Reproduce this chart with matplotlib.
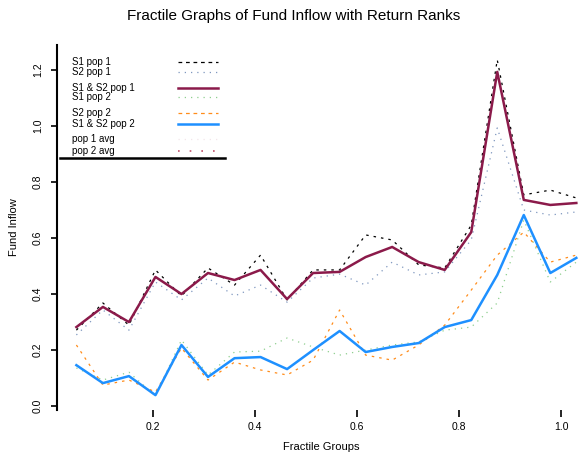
import matplotlib
matplotlib.use("Agg")
import matplotlib.pyplot as plt
from matplotlib.lines import Line2D

plt.rcParams['font.family'] = ['Liberation Sans', 'DejaVu Sans']

# Fractile group positions (20 groups)
fractiles = [0.050, 0.102, 0.153, 0.205, 0.256, 0.308, 0.360, 0.411, 0.463, 0.514,
             0.566, 0.617, 0.669, 0.721, 0.772, 0.824, 0.875, 0.927, 0.979, 1.030]

# Population 1
s1_pop1 = [0.271, 0.368, 0.289, 0.486, 0.393, 0.493, 0.432, 0.539, 0.379, 0.486,
           0.486, 0.611, 0.593, 0.504, 0.493, 0.646, 1.236, 0.754, 0.771, 0.743]
s2_pop1 = [0.254, 0.343, 0.271, 0.443, 0.379, 0.457, 0.393, 0.432, 0.371, 0.457,
           0.471, 0.432, 0.514, 0.468, 0.479, 0.593, 0.993, 0.700, 0.682, 0.693]
s12_pop1 = [0.282, 0.354, 0.300, 0.461, 0.400, 0.475, 0.450, 0.486, 0.382, 0.475,
            0.479, 0.532, 0.568, 0.514, 0.486, 0.621, 1.193, 0.736, 0.718, 0.725]

# Population 2
s1_pop2 = [0.136, 0.093, 0.121, 0.036, 0.236, 0.111, 0.193, 0.196, 0.243, 0.211,
           0.182, 0.200, 0.218, 0.229, 0.271, 0.282, 0.368, 0.664, 0.443, 0.514]
s2_pop2 = [0.218, 0.075, 0.093, 0.050, 0.207, 0.093, 0.157, 0.129, 0.111, 0.164,
           0.343, 0.182, 0.164, 0.218, 0.289, 0.414, 0.539, 0.621, 0.514, 0.539]
s12_pop2 = [0.146, 0.082, 0.107, 0.039, 0.218, 0.104, 0.171, 0.175, 0.132, 0.200,
            0.268, 0.193, 0.211, 0.225, 0.282, 0.307, 0.468, 0.682, 0.475, 0.529]

x_ticks = [0.2, 0.4, 0.6, 0.8, 1.0]
x_tick_labels = ["0.2", "0.4", "0.6", "0.8", "1.0"]
y_ticks = [0.0, 0.2, 0.4, 0.6, 0.8, 1.0, 1.2]
y_tick_labels = ["0.0", "0.2", "0.4", "0.6", "0.8", "1.0", "1.2"]

legend_labels = ["S1 pop 1", "S2 pop 1", "S1 & S2 pop 1", "S1 pop 2",
                 "S2 pop 2", "S1 & S2 pop 2", "pop 1 avg", "pop 2 avg"]

PURPLE = "#8b1a4a"
BLUE = "#1e90ff"
ORANGE = "#ff8c1a"
styles = [
    dict(color="black", ls=(0, (2, 4)), lw=0.9),
    dict(color="#7f97bf", ls=(0, (1, 4)), lw=0.9),
    dict(color=PURPLE, ls="-", lw=1.8),
    dict(color="#8fcf8f", ls=(0, (1, 4)), lw=0.9),
    dict(color=ORANGE, ls=(0, (2, 4)), lw=0.9),
    dict(color=BLUE, ls="-", lw=1.8),
    dict(color="#f2e6ea", ls=(0, (1, 4)), lw=0.9),
    dict(color="#c0506a", ls=(0, (1, 6)), lw=1.2),
]
legend_styles = [dict(st) for st in styles]
legend_styles[0]["ls"] = (0, (3, 3))
legend_styles[4]["ls"] = (0, (3, 3))

fig = plt.figure(figsize=(5.88, 4.66), dpi=100)
ax = fig.add_axes([57 / 588, 1 - 410 / 466, 528 / 588, 365 / 466])

series = [s1_pop1, s2_pop1, s12_pop1, s1_pop2, s2_pop2, s12_pop2]
order = [1, 3, 0, 4, 2, 5]
for i in order:
    ax.plot(fractiles, series[i], **styles[i], zorder=3 if i in (2, 5) else 2)

ax.set_xlim(0.012, 1.047)
ax.set_ylim(-0.014, 1.289)

for s in ("top", "right", "bottom"):
    ax.spines[s].set_visible(False)
ax.spines["left"].set_linewidth(1.5)

ax.set_xticks(x_ticks, x_tick_labels)
ax.set_yticks(y_ticks, y_tick_labels)
ax.tick_params(axis="x", length=5, width=1.2, labelsize=7.5, pad=4)
ax.tick_params(axis="y", length=4, width=1.2, labelsize=7.5, pad=6, labelrotation=90)
for lab in ax.get_yticklabels():
    lab.set_va("center")

ax.set_xlabel("Fractile Groups", fontsize=8, labelpad=7)
ax.set_ylabel("Fund Inflow", fontsize=8, labelpad=10)
fig.text(0.5, 1 - 16 / 466, "Fractile Graphs of Fund Inflow with Return Ranks",
         ha="center", va="center", fontsize=11)

# Legend: labels on the left, line samples on the right
tr = ax.transAxes
def px_to_ax(px, py):
    return (px - 57) / 528, (410 - py) / 365

row_y = [62, 72, 88, 97, 113, 124, 139, 151]
for lab, st, py in zip(legend_labels, legend_styles, row_y):
    tx, ty = px_to_ax(72, py)
    ax.text(tx, ty, lab, transform=tr, fontsize=7, va="center", ha="left")
    x0, yy = px_to_ax(178, py)
    x1, _ = px_to_ax(218, py)
    ax.add_line(Line2D([x0, x1], [yy, yy], transform=tr, **st))
lx0, ly = px_to_ax(60, 158)
lx1, _ = px_to_ax(225, 158)
ax.add_line(Line2D([lx0, lx1], [ly, ly], transform=tr, color="black", lw=1.8))

fig.savefig("out.png", dpi=100)
